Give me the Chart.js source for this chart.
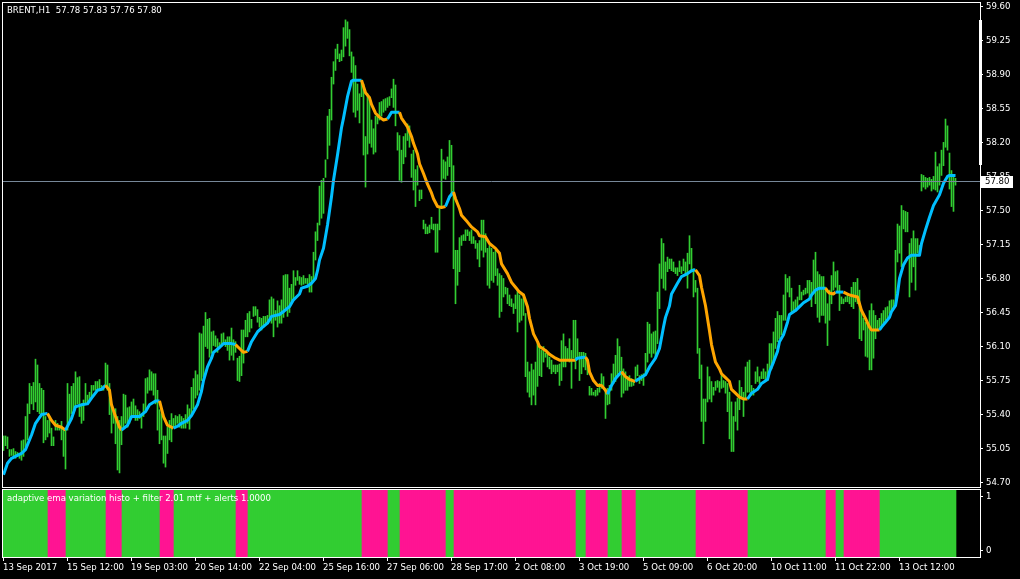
<!DOCTYPE html>
<html>
<head>
<meta charset="utf-8">
<script src="https://cdn.jsdelivr.net/npm/chart.js@4.4.0/dist/chart.umd.min.js"></script>
<style>
  html, body { margin: 0; padding: 0; background: #000; }
  #wrap { position: relative; width: 1020px; height: 579px; overflow: hidden; background: #000; }
  #priceChart { position: absolute; left: 0; top: 0; }
  #histoChart { position: absolute; left: 0; top: 488px; }
</style>
</head>
<body>
<div id="wrap">
  <canvas id="priceChart" width="1020" height="489"></canvas>
  <canvas id="histoChart" width="1020" height="91"></canvas>
</div>
<script>
const FONT = "'DejaVu Sans Condensed', 'Liberation Sans', sans-serif";
const FONT_SIZE = 9.5;
const symbolTitle = "BRENT,H1  57.78 57.83 57.76 57.80";
const indicatorTitle = "adaptive ema variation histo + filter 2.01 mtf + alerts 1.0000";
const lastPrice = 57.80;

const priceTicks = [54.70, 55.05, 55.40, 55.75, 56.10, 56.45, 56.80, 57.15, 57.50, 57.85, 58.20, 58.55, 58.90, 59.25, 59.60];
const dateLabels = ["13 Sep 2017", "15 Sep 12:00", "19 Sep 03:00", "20 Sep 14:00", "22 Sep 04:00", "25 Sep 16:00",
  "27 Sep 06:00", "28 Sep 17:00", "2 Oct 08:00", "3 Oct 19:00", "5 Oct 09:00", "6 Oct 20:00",
  "10 Oct 11:00", "11 Oct 22:00", "13 Oct 12:00"];

// H1 bars, one per hour (high / low)
const barHigh = [
  55.18,55.18,55.17,55.04,55.04,55.05,55.02,55.01,55.00,55.13,
  55.14,55.38,55.51,55.72,55.69,55.73,55.97,55.91,55.72,55.67,
  55.65,55.38,55.34,55.38,55.26,55.17,55.34,55.31,55.29,55.33,
  55.26,55.24,55.72,55.61,55.69,55.72,55.84,55.78,55.79,55.51,
  55.55,55.72,55.60,55.63,55.70,55.70,55.74,55.74,55.76,55.70,
  55.69,55.93,55.91,55.72,55.50,55.46,55.46,55.38,55.34,55.38,
  55.61,55.60,55.47,55.48,55.53,55.56,55.49,55.45,55.43,55.40,
  55.51,55.77,55.78,55.86,55.84,55.82,55.82,55.65,55.45,
  55.41,55.18,55.18,55.27,55.34,55.41,55.36,55.39,55.38,55.40,
  55.38,55.36,55.40,55.50,55.46,55.68,55.77,55.85,55.81,56.24,
  56.23,56.31,56.45,56.38,56.39,56.25,56.26,56.21,56.18,56.14,
  56.23,56.24,56.17,56.20,56.20,56.29,56.17,56.15,55.98,56.00,
  56.27,56.27,56.37,56.44,56.46,56.38,56.51,56.51,56.48,56.40,
  56.39,56.41,56.41,56.42,56.58,56.61,56.59,56.47,56.57,56.52,
  56.58,56.83,56.84,56.84,56.70,56.74,56.88,56.81,56.88,56.82,
  56.81,56.83,56.80,56.80,56.84,56.82,57.07,57.28,57.37,57.75,
  57.81,57.83,58.02,58.47,58.54,58.87,59.03,59.16,59.21,59.11,
  59.15,59.38,59.46,59.44,59.36,59.13,59.08,58.99,58.80,58.70,
  58.84,58.80,58.26,58.70,58.67,58.43,58.34,58.47,58.49,58.61,
  58.62,58.64,58.65,58.66,58.67,58.75,58.85,58.79,58.30,58.27,
  58.12,58.26,58.29,58.39,58.37,58.08,58.12,57.92,57.96,57.71,
  57.71,57.40,57.36,57.33,57.35,57.43,57.36,57.36,57.36,57.52,
  58.13,58.02,58.00,58.05,58.22,58.17,57.96,57.09,57.09,57.22,
  57.24,57.25,57.30,57.30,57.28,57.30,57.23,57.19,57.16,57.19,
  57.40,57.40,57.26,57.11,57.14,57.11,57.07,57.09,56.90,56.85,
  56.83,56.80,56.71,56.70,56.63,56.59,56.54,56.63,56.68,56.63,
  56.59,56.64,56.44,55.94,55.84,55.92,55.86,55.94,56.13,56.11,
  56.06,56.10,56.03,56.03,55.99,55.96,55.91,55.91,55.91,55.92,
  56.16,56.23,56.10,56.08,56.18,56.06,56.37,56.37,56.18,56.04,
  56.04,56.04,56.03,55.96,55.69,55.67,55.63,55.65,55.67,55.72,
  55.82,55.79,55.65,55.67,55.70,55.82,55.92,56.01,56.18,56.10,
  55.99,55.87,55.84,55.79,55.80,55.77,55.75,55.89,55.91,55.80,
  55.81,55.82,56.03,56.35,56.33,56.23,56.25,56.26,56.66,56.95,
  57.21,57.16,56.97,57.02,57.00,57.00,56.97,56.91,56.91,56.98,
  56.92,57.00,56.97,57.06,57.24,57.11,56.90,56.78,56.70,56.08,
  55.91,55.56,55.56,55.89,55.79,55.74,55.68,55.74,55.75,55.74,
  55.81,55.75,55.74,55.72,55.63,55.53,55.38,55.53,55.57,55.75,
  55.68,55.63,55.89,55.94,55.96,55.70,55.67,55.84,55.89,55.79,
  55.84,55.87,55.84,55.92,56.13,56.13,56.25,56.39,56.46,56.42,
  56.42,56.63,56.84,56.80,56.82,56.70,56.56,56.58,56.61,56.73,
  56.66,56.68,56.70,56.78,56.78,56.76,56.99,57.07,56.87,56.84,
  56.82,56.82,56.71,56.54,56.68,56.83,56.97,56.87,56.88,56.73,
  56.61,56.59,56.61,56.63,56.61,56.71,56.76,56.76,56.80,56.68,
  56.47,56.39,56.35,56.34,56.47,56.54,56.47,56.42,56.37,56.39,
  56.44,56.47,56.50,56.51,56.57,56.58,56.58,57.09,57.36,57.34,
  57.55,57.50,57.49,57.48,57.16,57.21,57.29,57.21,57.21,57.14,
  57.87,57.86,57.84,57.83,57.84,57.82,57.85,58.10,57.95,57.98,
  58.12,58.20,58.44,58.37,58.09,57.91,57.84,57.83
];
const barLow = [
  55.03,55.08,55.05,54.97,54.98,54.97,54.95,54.97,54.95,54.93,
  54.97,55.07,55.14,55.41,55.51,55.45,55.53,55.43,55.41,55.41,
  55.11,55.14,55.17,55.21,55.08,55.08,55.24,55.24,55.24,55.14,
  54.97,54.84,55.24,55.34,55.41,55.45,55.48,55.51,55.38,55.31,
  55.34,55.51,55.51,55.55,55.58,55.65,55.65,55.65,55.65,55.65,
  55.65,55.69,55.65,55.40,55.21,55.31,55.10,54.83,54.80,55.09,
  55.26,55.31,55.27,55.31,55.38,55.40,55.34,55.34,55.36,55.26,
  55.38,55.45,55.62,55.65,55.65,55.60,55.51,55.24,55.10,
  55.14,54.90,54.86,55.00,55.14,55.12,55.27,55.27,55.31,55.27,
  55.26,55.26,55.26,55.31,55.25,55.41,55.46,55.57,55.60,55.65,
  55.75,55.79,56.10,56.08,55.99,56.03,56.11,56.10,56.04,56.10,
  56.10,56.13,56.10,56.06,55.96,56.01,55.96,56.04,55.75,55.74,
  55.80,55.93,56.20,56.20,56.25,56.29,56.41,56.42,56.35,56.30,
  56.27,56.30,56.34,56.34,56.40,56.34,56.20,56.37,56.30,56.34,
  56.34,56.40,56.47,56.41,56.45,56.54,56.58,56.73,56.78,56.74,
  56.73,56.74,56.75,56.74,56.66,56.66,56.78,56.99,57.19,57.35,
  57.42,57.47,57.84,58.03,58.17,58.43,58.80,58.94,59.06,59.03,
  59.04,59.08,59.19,59.27,59.09,58.92,58.51,58.46,58.53,58.40,
  58.67,58.07,57.74,58.08,58.19,58.15,58.08,58.10,58.39,58.43,
  58.47,58.51,58.53,58.56,58.58,58.66,58.56,58.37,58.12,57.81,
  57.79,57.98,58.05,58.22,58.15,57.84,57.71,57.54,57.76,57.60,
  57.62,57.31,57.26,57.26,57.27,57.31,57.30,57.07,57.07,57.30,
  57.54,57.83,57.82,57.86,57.95,57.65,56.90,56.54,56.73,56.87,
  57.14,57.19,57.19,57.24,57.19,57.16,57.16,57.11,57.00,56.92,
  57.09,57.02,57.07,56.73,56.70,56.78,56.76,56.83,56.73,56.40,
  56.46,56.61,56.64,56.54,56.52,56.51,56.44,56.49,56.25,56.35,
  56.37,56.42,55.79,55.63,55.58,55.50,55.60,55.50,55.69,55.80,
  55.79,55.94,55.99,55.89,55.87,55.82,55.84,55.82,55.84,55.70,
  55.75,55.89,55.89,55.96,55.94,55.67,55.98,55.87,55.98,55.75,
  55.82,55.89,55.86,55.81,55.60,55.60,55.60,55.59,55.60,55.63,
  55.67,55.69,55.36,55.50,55.51,55.65,55.72,55.74,55.79,55.84,
  55.58,55.62,55.65,55.65,55.69,55.69,55.70,55.75,55.80,55.72,
  55.75,55.70,55.82,55.94,56.03,55.99,56.03,55.99,56.13,56.49,
  56.80,56.70,56.68,56.87,56.90,56.88,56.87,56.85,56.83,56.87,
  56.85,56.88,56.83,56.70,56.95,56.87,56.61,56.66,56.03,55.77,
  55.33,55.10,55.33,55.53,55.56,55.53,55.60,55.65,55.68,55.63,
  55.67,55.68,55.62,55.43,55.15,55.02,55.02,55.33,55.24,55.45,
  55.58,55.38,55.56,55.63,55.63,55.60,55.60,55.72,55.74,55.72,
  55.77,55.77,55.75,55.75,55.84,55.87,55.94,56.08,56.15,56.18,
  56.22,56.37,56.37,56.66,56.61,56.46,56.46,56.47,56.51,56.58,
  56.58,56.63,56.64,56.65,56.61,56.51,56.66,56.54,56.40,56.35,
  56.42,56.42,56.34,56.11,56.37,56.54,56.68,56.71,56.66,56.47,
  56.54,56.54,56.56,56.56,56.54,56.51,56.49,56.56,56.54,56.18,
  56.16,56.27,56.00,55.99,55.86,55.86,55.98,56.18,56.27,56.27,
  56.30,56.34,56.37,56.39,56.44,56.47,56.49,56.54,56.97,57.06,
  56.92,57.31,57.28,57.28,56.61,56.76,56.92,56.68,57.06,57.07,
  57.70,57.74,57.72,57.74,57.76,57.70,57.72,57.71,57.69,57.76,
  57.86,57.96,58.15,58.12,57.72,57.54,57.49,57.76
];

// adaptive ema line, sampled at these bar numbers
const emaBars = [
  0,2,4,7,9,11,14,16,19,22,24,26,29,31,34,36,39,42,44,47,49,51,53,54,56,58,59,62,64,68,71,73,76,78,
  80,82,85,87,89,92,94,97,99,100,102,104,105,108,110,114,116,118,120,122,124,127,129,132,134,138,140,143,145,148,149,152,154,156,157,158,
  160,162,164,165,167,169,170,172,174,175,179,181,183,184,186,188,190,192,194,198,199,202,204,205,207,208,210,212,214,215,217,219,221,223,225,226,228,229,232,234,237,238,
  241,243,246,248,249,252,254,256,258,260,262,263,265,267,268,271,273,276,278,282,286,287,290,291,292,293,295,297,299,301,302,304,306,309,311,313,316,317,318,
  321,323,326,328,330,331,333,334,337,339,342,344,346,348,349,351,353,354,356,358,359,361,363,364,366,368,370,372,374,377,379,382,383,385,387,388,390,392,393,396,398,
  400,403,404,406,408,411,412,413,415,416,420,422,423,425,427,428,429,431,433,434,438,439,441,443,444,446,447,448,450,452,454,458,459,461,463,465,468,470,472,473,476
];
const emaValues = [
  54.78,54.90,54.95,54.98,55.00,55.04,55.19,55.31,55.40,55.41,55.34,55.29,55.27,55.24,55.36,55.48,55.50,55.51,55.57,55.65,
  55.66,55.70,55.65,55.50,55.38,55.27,55.24,55.29,55.38,55.38,55.43,55.50,55.54,55.54,
  55.38,55.29,55.26,55.28,55.31,55.34,55.39,55.50,55.64,55.75,55.89,55.98,56.04,56.09,56.13,56.13,56.12,56.08,56.04,56.05,
  56.15,56.25,56.29,56.34,56.41,56.43,56.46,56.51,56.58,56.64,56.70,56.72,56.75,56.80,56.88,56.99,
  57.11,57.35,57.64,57.81,58.07,58.35,58.45,58.67,58.83,58.84,58.84,58.71,58.66,58.59,58.50,58.46,58.43,58.44,58.51,58.51,
  58.45,58.36,58.26,58.19,58.08,57.98,57.88,57.77,57.68,57.62,57.54,57.53,57.54,57.64,57.69,57.62,57.52,57.45,57.38,57.33,
  57.28,57.24,
  57.23,57.16,57.11,57.06,56.95,56.85,56.76,56.71,56.66,56.63,56.51,56.39,56.23,56.15,56.10,56.06,56.02,55.98,55.96,55.96,
  55.96,55.98,55.99,55.99,55.96,55.84,55.75,55.70,55.70,55.65,55.61,55.70,55.77,55.84,55.79,55.76,55.74,55.76,55.77,
  55.81,55.89,55.98,56.08,56.30,56.40,56.52,56.64,56.75,56.82,56.85,56.88,56.89,56.83,56.71,56.52,56.26,56.12,55.94,55.87,
  55.82,55.78,55.74,55.66,55.62,55.58,55.56,55.56,55.62,55.66,55.72,55.76,55.84,55.94,56.05,56.15,56.22,56.35,56.43,56.47,
  56.51,
  56.55,56.59,56.63,56.68,56.70,56.70,56.67,56.65,56.64,56.66,56.66,56.64,56.63,56.62,56.61,56.54,56.47,56.39,56.30,56.27,
  56.27,56.30,56.35,56.40,56.46,56.52,56.64,56.80,56.94,57.01,57.04,57.04,57.16,57.30,57.43,57.55,57.66,57.78,57.85,57.86,
  57.86
];

// filter state: bar where each run begins, 1 = up (green/blue), -1 = down (pink/orange)
const trendStart = [0, 23, 32, 52, 60, 79, 86, 117, 123, 180, 193, 199, 222, 226, 287, 292, 303, 310, 317, 347, 373, 412, 417, 421, 439];
const trendDir = [1, -1, 1, -1, 1, -1, 1, -1, 1, -1, 1, -1, 1, -1, 1, -1, 1, -1, 1, -1, 1, -1, 1, -1, 1];

const BAR_GREEN = "rgb(50,205,50)";
const HIST_UP = "rgb(50,205,50)";
const HIST_DOWN = "rgb(255,20,147)";
const EMA_UP = "rgb(0,191,255)";
const EMA_DOWN = "rgb(255,165,0)";
const BID_GRAY = "rgb(119,136,153)";

Chart.defaults.font.family = FONT;
Chart.defaults.font.size = FONT_SIZE;
Chart.defaults.color = "#fff";

function trendAt(bar) {
  let d = trendDir[0];
  for (let k = 0; k < trendStart.length; k++) {
    if (bar >= trendStart[k]) d = trendDir[k];
  }
  return d;
}

// scales must not push the plot area in for their first / last label
function noLabelPadding(s) {
  s.paddingTop = 0;
  s.paddingBottom = 0;
  s.paddingLeft = 0;
  s.paddingRight = 0;
}

const priceFrame = {
  id: "priceFrame",
  afterDraw(chart) {
    const { ctx, chartArea: a } = chart;
    const y = chart.scales.y;
    ctx.save();
    ctx.strokeStyle = "#fff";
    ctx.lineWidth = 1;
    ctx.strokeRect(a.left + 0.5, a.top + 0.5, a.right - a.left, a.bottom - a.top);

    const py = Math.round(y.getPixelForValue(lastPrice)) + 0.5;
    ctx.strokeStyle = BID_GRAY;
    ctx.beginPath();
    ctx.moveTo(a.left + 1, py);
    ctx.lineTo(a.right, py);
    ctx.stroke();

    ctx.fillStyle = "#fff";
    ctx.fillRect(a.right + 1, py - 5.5, 32, 12);
    ctx.fillRect(a.right - 1, 20, 3, 145);

    ctx.font = FONT_SIZE + "px " + FONT;
    ctx.textBaseline = "middle";
    ctx.fillStyle = "#000";
    ctx.fillText(lastPrice.toFixed(2), a.right + 5, py + 0.5);
    ctx.fillStyle = "#fff";
    ctx.fillText(symbolTitle, 7, 10.5);
    ctx.restore();
  }
};

const histoFrame = {
  id: "histoFrame",
  afterDraw(chart) {
    const { ctx, chartArea: a } = chart;
    ctx.save();
    ctx.strokeStyle = "#fff";
    ctx.lineWidth = 1;
    ctx.strokeRect(a.left + 0.5, a.top + 0.5, a.right - a.left, a.bottom - a.top);
    ctx.font = FONT_SIZE + "px " + FONT;
    ctx.textBaseline = "middle";
    ctx.fillStyle = "#fff";
    ctx.fillText(indicatorTitle, 7, 11);
    ctx.restore();
  }
};

new Chart(document.getElementById("priceChart"), {
  type: "bar",
  data: {
    datasets: [
      {
        type: "line",
        data: emaBars.map((b, k) => ({ x: b, y: emaValues[k] })),
        borderWidth: 3,
        borderColor: EMA_UP,
        borderJoinStyle: "round",
        pointRadius: 0,
        segment: {
          borderColor: (ctx) => (trendAt(emaBars[ctx.p1DataIndex]) > 0 ? EMA_UP : EMA_DOWN),
        },
        order: 0,
      },
      {
        type: "bar",
        data: barHigh.map((h, i) => ({ x: i, y: [barLow[i], h] })),
        backgroundColor: BAR_GREEN,
        barThickness: 1,
        grouped: false,
        order: 1,
      },
    ],
  },
  options: {
    responsive: false,
    animation: false,
    events: [],
    layout: { autoPadding: false, padding: { left: 2, top: 2, right: 0, bottom: 2 } },
    plugins: { legend: { display: false }, tooltip: { enabled: false } },
    scales: {
      x: { type: "linear", min: -0.75, max: 488.25, offset: false, display: false },
      y: {
        position: "right",
        min: 54.655,
        max: 59.644,
        beginAtZero: false,
        afterBuildTicks: (s) => { s.ticks = priceTicks.map((v) => ({ value: v })); },
        afterFit: (s) => { s.width = 40; noLabelPadding(s); },
        border: { display: false },
        grid: { drawOnChartArea: false, color: "#fff", tickLength: 3 },
        ticks: { autoSkip: false, padding: 3, color: "#fff", callback: (v) => Number(v).toFixed(2) },
      },
    },
  },
  plugins: [priceFrame],
});

new Chart(document.getElementById("histoChart"), {
  type: "bar",
  data: {
    datasets: [
      {
        data: barHigh.map((_, i) => ({ x: i, y: [-1, 2] })),
        backgroundColor: (ctx) => (trendAt(ctx.dataIndex) > 0 ? HIST_UP : HIST_DOWN),
        barThickness: 2,
        grouped: false,
      },
    ],
  },
  options: {
    responsive: false,
    animation: false,
    events: [],
    layout: { autoPadding: false, padding: { left: 2, top: 1, right: 0, bottom: 0 } },
    plugins: { legend: { display: false }, tooltip: { enabled: false } },
    scales: {
      x: {
        type: "linear",
        min: -0.5,
        max: 488.5,
        offset: false,
        afterBuildTicks: (s) => { s.ticks = dateLabels.map((_, k) => ({ value: k * 32 })); },
        afterFit: (s) => { s.height = 22; noLabelPadding(s); },
        border: { display: false },
        grid: { drawOnChartArea: false, offset: false, color: "#fff", tickLength: 4 },
        ticks: { autoSkip: false, maxRotation: 0, align: "start", padding: 1, color: "#fff",
          callback: (v, k) => dateLabels[k] },
      },
      y: {
        position: "right",
        min: -0.11,
        max: 1.13,
        beginAtZero: false,
        afterBuildTicks: (s) => { s.ticks = [{ value: 0 }, { value: 1 }]; },
        afterFit: (s) => { s.width = 40; noLabelPadding(s); },
        border: { display: false },
        grid: { drawOnChartArea: false, color: "#fff", tickLength: 3 },
        ticks: { autoSkip: false, padding: 3, color: "#fff", callback: (v) => String(v) },
      },
    },
  },
  plugins: [histoFrame],
});
</script>
</body>
</html>
